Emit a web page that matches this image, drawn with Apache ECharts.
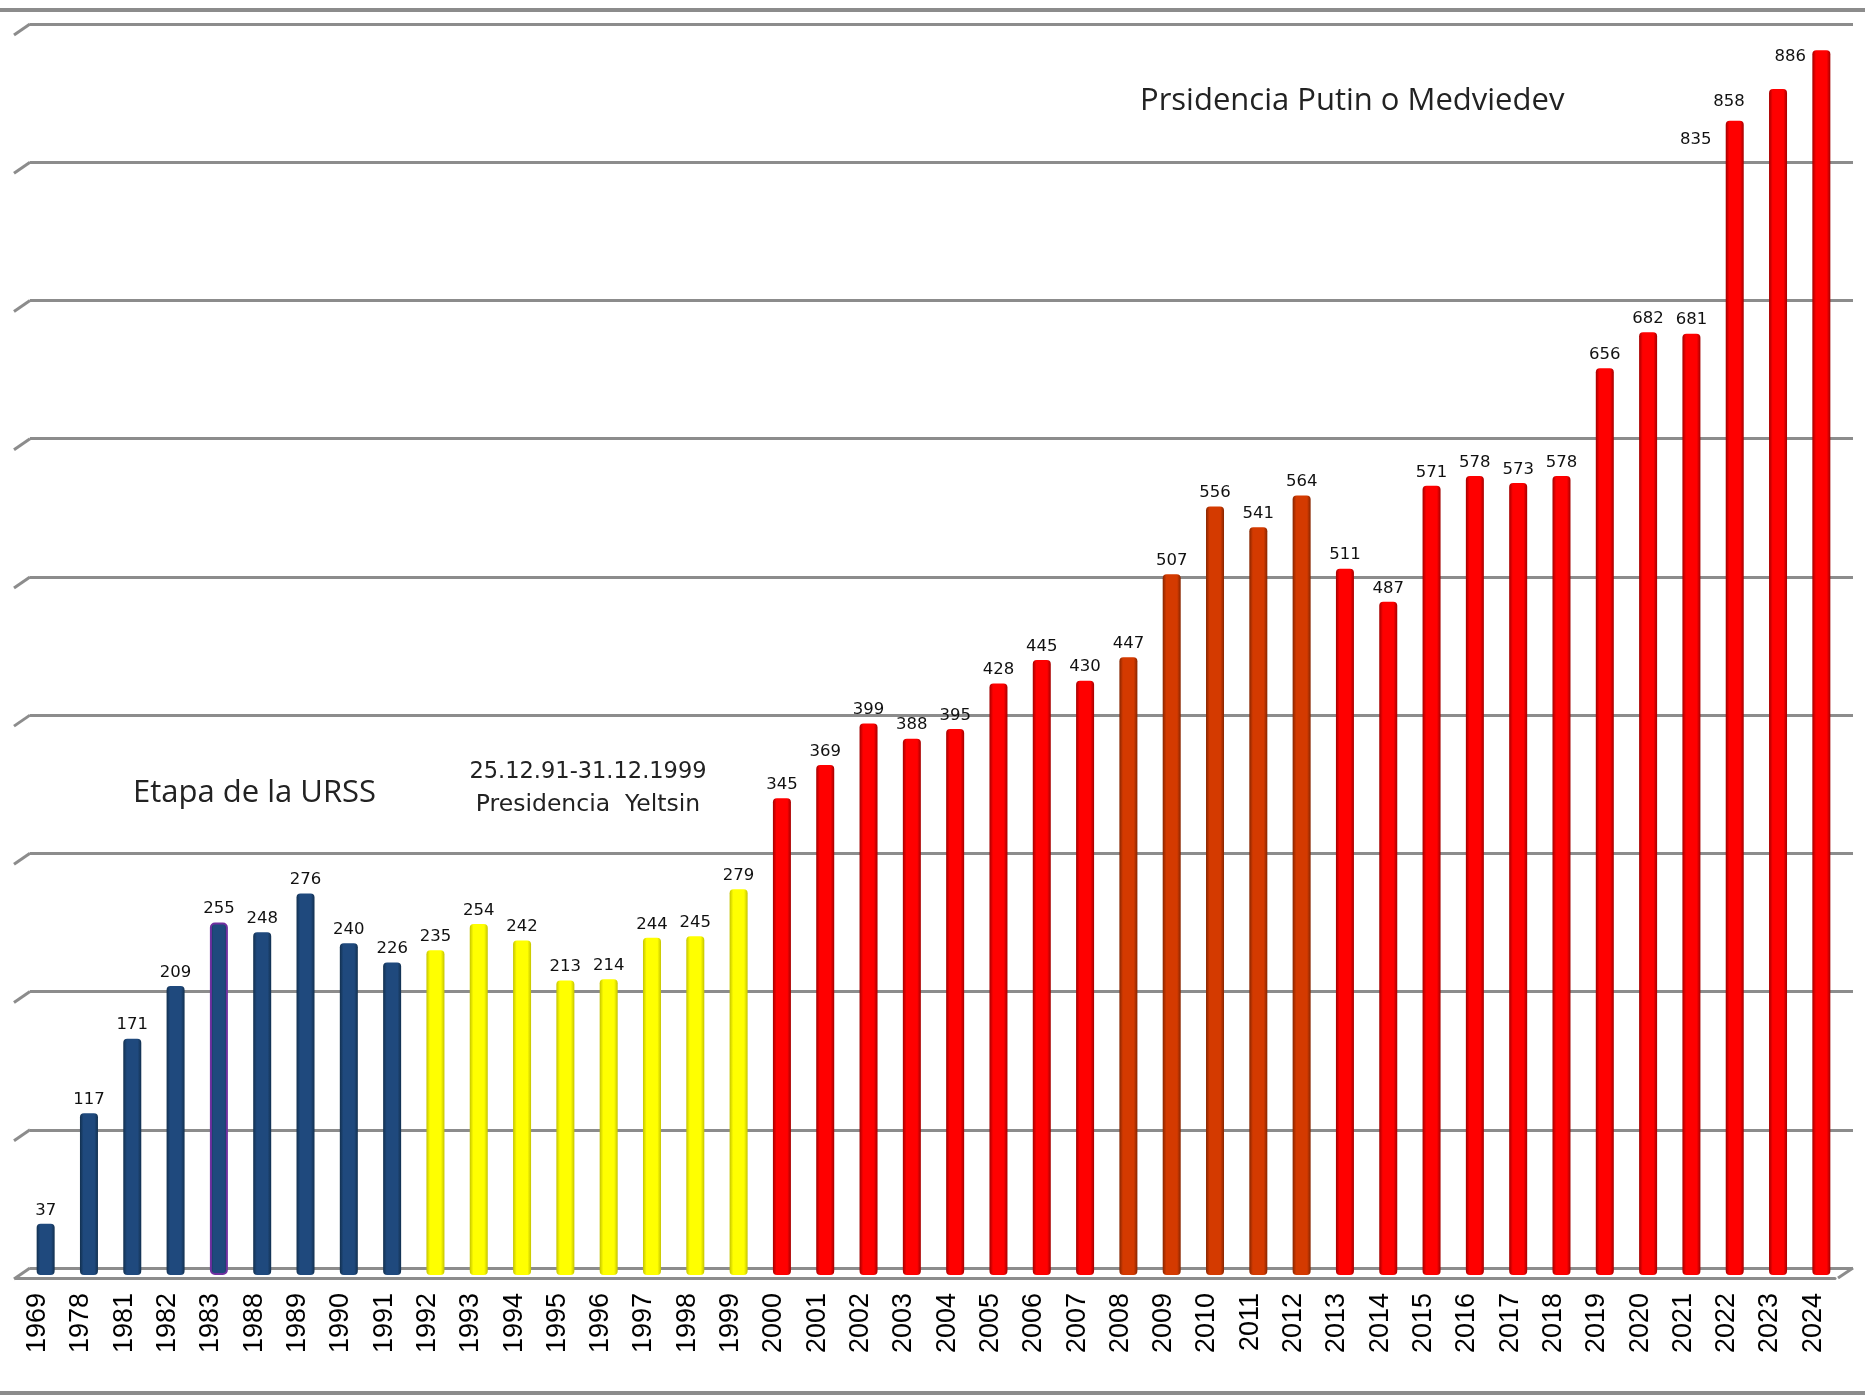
<!DOCTYPE html>
<html>
<head>
<meta charset="utf-8">
<title>Gasto militar</title>
<script src="https://cdn.jsdelivr.net/npm/echarts@6/dist/echarts.min.js"></script>
<style>
    html, body { margin: 0; padding: 0; background: #fff; }
    #main { width: 1865px; height: 1397px; }
</style>
</head>
<body>
<div id="main"></div>
<script>
// datos
var years = ['1969', '1978', '1981', '1982', '1983', '1988', '1989', '1990', '1991',
    '1992', '1993', '1994', '1995', '1996', '1997', '1998', '1999',
    '2000', '2001', '2002', '2003', '2004', '2005', '2006', '2007',
    '2008', '2009', '2010', '2011', '2012',
    '2013', '2014', '2015', '2016', '2017', '2018', '2019', '2020', '2021', '2022', '2023', '2024'];
var values = [37, 117, 171, 209, 255, 248, 276, 240, 226,
    235, 254, 242, 213, 214, 244, 245, 279,
    345, 369, 399, 388, 395, 428, 445, 430,
    447, 507, 556, 541, 564,
    511, 487, 571, 578, 573, 578, 656, 682, 681, 835, 858, 886];
var periods = ['urss', 'urss', 'urss', 'urss', 'urss', 'urss', 'urss', 'urss', 'urss',
    'yeltsin', 'yeltsin', 'yeltsin', 'yeltsin', 'yeltsin', 'yeltsin', 'yeltsin', 'yeltsin',
    'putin', 'putin', 'putin', 'putin', 'putin', 'putin', 'putin', 'putin',
    'medvedev', 'medvedev', 'medvedev', 'medvedev', 'medvedev',
    'putin', 'putin', 'putin', 'putin', 'putin', 'putin', 'putin', 'putin', 'putin', 'putin', 'putin', 'putin'];
var notes = ['Etapa de la URSS', '25.12.91-31.12.1999', 'Presidencia  Yeltsin', 'Prsidencia Putin o Medviedev'];

// estilos
var gris = '#8c8c8c';
var colores = {
    urss: { base: '#1F497D', edge: '#12304f' },
    yeltsin: { base: '#FFFF00', edge: '#c4c400' },
    putin: { base: '#FF0000', edge: '#a30000' },
    medvedev: { base: '#D43A00', edge: '#862500' }
};
// etiquetas desplazadas como en el original
var ajusteEtiqueta = { '2022': [-39, 32], '2023': [-49, 26], '2024': [-31, 20] };

function cilindro(c) {
    return new echarts.graphic.LinearGradient(0, 0, 1, 0, [
        { offset: 0, color: c.edge },
        { offset: 0.2, color: c.base },
        { offset: 0.8, color: c.base },
        { offset: 1, color: c.edge }
    ]);
}

var barData = values.map(function (v, i) {
    var item = { value: v, itemStyle: { color: cilindro(colores[periods[i]]) } };
    if (years[i] === '1983') {
        item.itemStyle.borderColor = '#7030A0';
        item.itemStyle.borderWidth = 2;
    }
    if (ajusteEtiqueta[years[i]]) {
        item.label = { offset: ajusteEtiqueta[years[i]] };
    }
    return item;
});

var chart = echarts.init(document.getElementById('main'));

var option = {
    backgroundColor: '#fff',
    animation: false,
    grid: [
        { left: 24, right: 22, top: 31, bottom: 122, outerBoundsMode: 'none' }, // barras
        { left: 16, right: 30, top: 31, bottom: 119, outerBoundsMode: 'none' }, // eje frontal
        { left: 30, right: 12, top: 24, bottom: 129, outerBoundsMode: 'none' }  // pared del fondo
    ],
    xAxis: [
        { gridIndex: 0, type: 'category', data: years, show: false },
        {
            gridIndex: 1, type: 'category', data: years,
            axisLine: { lineStyle: { color: gris, width: 3 } },
            axisTick: { length: 8, lineStyle: { color: gris, width: 3 } },
            axisLabel: { rotate: 90, margin: 15, fontFamily: 'Liberation Sans', fontSize: 27, color: '#000' }
        },
        { gridIndex: 2, type: 'value', min: 0, max: 1, show: false }
    ],
    yAxis: [
        { gridIndex: 0, type: 'value', min: 0, max: 900, show: false },
        { gridIndex: 1, type: 'value', min: 0, max: 900, show: false },
        {
            gridIndex: 2, type: 'value', min: 0, max: 900, interval: 100,
            axisLine: { show: false }, axisTick: { show: false }, axisLabel: { show: false },
            splitLine: { show: true, lineStyle: { color: gris, width: 3 } }
        }
    ],
    series: [{
        type: 'bar',
        xAxisIndex: 0,
        yAxisIndex: 0,
        data: barData,
        barWidth: 18,
        itemStyle: { borderRadius: 4 },
        label: {
            show: true, position: 'top', distance: 5,
            fontFamily: 'DejaVu Sans', fontSize: 16.5, color: '#111'
        }
    }]
};
chart.setOption(option);

// marco, esquinas 3D y textos
var x0 = chart.convertToPixel({ xAxisIndex: 2 }, 0);
var x1 = chart.convertToPixel({ xAxisIndex: 2 }, 1);
var yBase = chart.convertToPixel({ yAxisIndex: 2 }, 0);
var graficos = [
    { type: 'rect', shape: { x: 0, y: 8, width: 1865, height: 4 }, style: { fill: gris } },
    { type: 'rect', shape: { x: 0, y: 1391, width: 1865, height: 4 }, style: { fill: gris } },
    { type: 'line', shape: { x1: x1, y1: yBase, x2: x1 - 15, y2: yBase + 10 }, style: { stroke: gris, lineWidth: 3 } }
];
for (var v = 0; v <= 900; v += 100) {
    var y = chart.convertToPixel({ yAxisIndex: 2 }, v);
    graficos.push({ type: 'line', shape: { x1: x0, y1: y, x2: x0 - 16, y2: y + 11 }, style: { stroke: gris, lineWidth: 3 } });
}
graficos.push(
    { type: 'text', style: { text: notes[0], x: 133, y: 793, fill: '#222', font: '31px "Open Sans"', textAlign: 'left', textVerticalAlign: 'middle' } },
    { type: 'text', style: { text: notes[1], x: 588, y: 772, fill: '#222', font: '22.5px "DejaVu Sans"', textAlign: 'center', textVerticalAlign: 'middle' } },
    { type: 'text', style: { text: notes[2], x: 588, y: 805, fill: '#222', font: '23.5px "DejaVu Sans"', textAlign: 'center', textVerticalAlign: 'middle' } },
    { type: 'text', style: { text: notes[3], x: 1140, y: 101, fill: '#222', font: '31px "Open Sans"', textAlign: 'left', textVerticalAlign: 'middle' } }
);
chart.setOption({ graphic: graficos });
</script>
</body>
</html>
